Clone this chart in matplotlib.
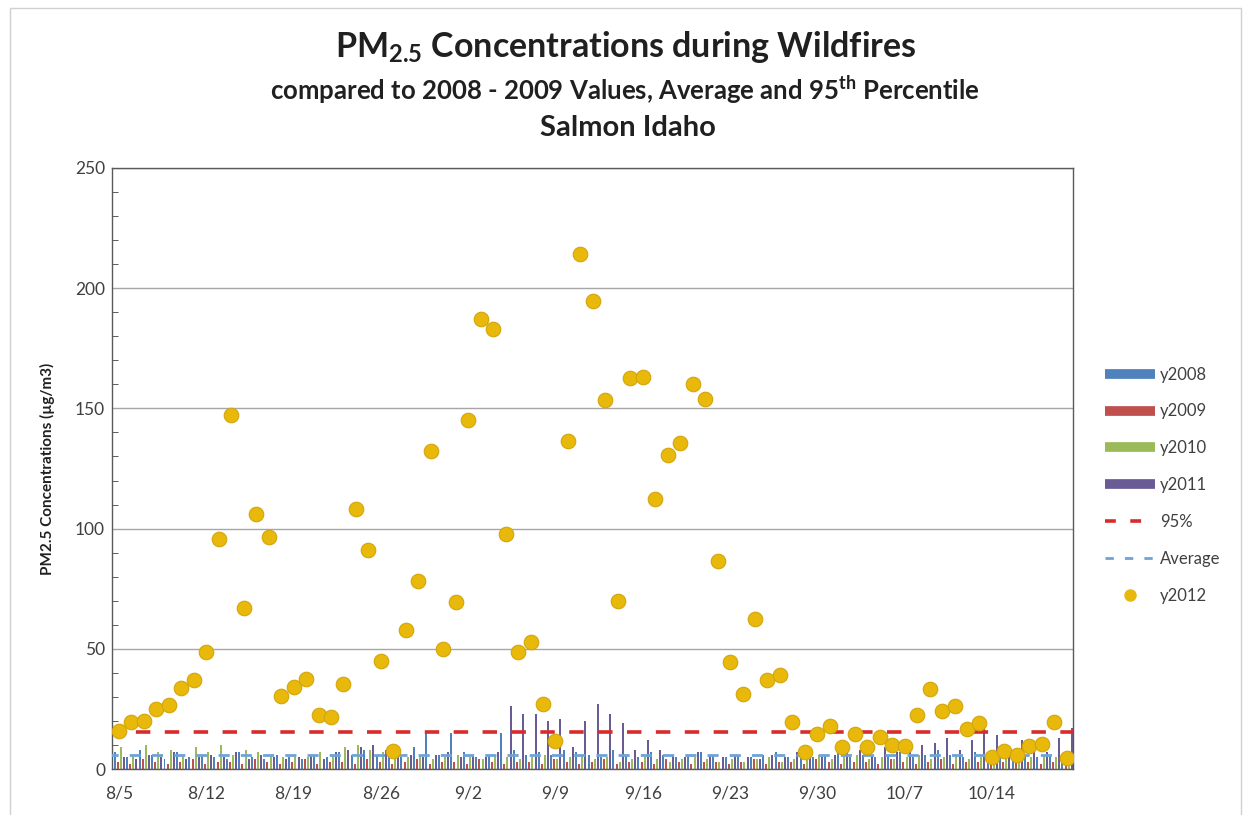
import numpy as np
import matplotlib
matplotlib.use("Agg")
import matplotlib.pyplot as plt
from matplotlib.lines import Line2D
from matplotlib.patches import Rectangle

plt.rcParams['font.family'] = ['Lato', 'DejaVu Sans']
plt.rcParams['mathtext.default'] = 'regular'

# Day labels on the x axis (one tick per week)
tick_labels = ['8/5', '8/12', '8/19', '8/26', '9/2', '9/9', '9/16',
               '9/23', '9/30', '10/7', '10/14']

# 2012 daily values, 8/5 .. 10/20
y2012 = [15.7, 19.5, 19.9, 25.1, 26.5, 33.7, 37.2, 48.5, 95.8, 147.2,
         66.9, 106.1, 96.5, 30.2, 34.1, 37.6, 22.3, 21.6, 35.5, 108.2,
         90.9, 45.0, 7.4, 57.8, 78.0, 132.2, 50.0, 69.5, 145.0, 187.0,
         183.0, 97.7, 48.6, 52.8, 27.1, 11.6, 136.4, 214.3, 194.5, 153.5,
         70.0, 162.7, 163.0, 112.4, 130.5, 135.7, 160.0, 153.8, 86.7, 44.4,
         31.4, 62.5, 37.0, 39.0, 19.5, 6.9, 14.6, 18.0, 9.2, 14.6,
         9.2, 13.4, 10.0, 9.7, 22.5, 33.2, 24.0, 26.2, 16.6, 19.0,
         5.0, 7.6, 5.9, 9.7, 10.6, 19.5, 4.5]

# earlier years, same calendar days
y2008 = [7, 5, 8, 6, 4, 7, 5, 6, 5, 4, 7, 5, 4, 6, 5, 4, 6, 5, 7, 6,
         8, 6, 7, 5, 9, 15, 6, 15, 7, 5, 6, 15, 8, 6, 7, 6, 8, 7, 6, 5,
         8, 6, 5, 7, 6, 5, 6, 7, 6, 5, 6, 5, 6, 7, 5, 6, 5, 6, 7, 5,
         6, 5, 6, 7, 5, 6, 8, 6, 5, 7, 6, 5, 7, 6, 5, 6, 4]
y2009 = [3, 2, 4, 3, 2, 3, 4, 2, 3, 3, 2, 4, 3, 2, 3, 4, 2, 3, 3, 2,
         4, 3, 2, 3, 4, 2, 3, 3, 2, 4, 3, 2, 3, 3, 2, 4, 3, 2, 3, 4,
         2, 3, 3, 2, 4, 3, 2, 3, 3, 2, 3, 4, 2, 3, 3, 2, 4, 3, 2, 3,
         3, 2, 4, 3, 2, 3, 4, 2, 3, 3, 2, 3, 4, 3, 2, 3, 3]
y2010 = [9, 6, 10, 7, 8, 6, 9, 7, 10, 6, 8, 7, 6, 5, 6, 5, 7, 6, 9, 10,
         8, 7, 6, 5, 6, 4, 5, 6, 5, 4, 6, 5, 4, 5, 6, 4, 5, 6, 4, 5,
         3, 4, 5, 4, 3, 4, 5, 4, 3, 4, 3, 4, 5, 3, 4, 5, 6, 4, 5, 6,
         4, 5, 4, 5, 6, 4, 5, 6, 4, 5, 6, 5, 4, 5, 6, 5, 6]
y2011 = [5, 4, 6, 5, 7, 4, 5, 6, 5, 7, 4, 6, 5, 4, 5, 6, 4, 7, 8, 9,
         10, 8, 7, 6, 5, 6, 7, 5, 6, 5, 7, 26, 23, 23, 20, 21, 9, 20, 27, 23,
         19, 8, 12, 8, 6, 5, 7, 6, 5, 6, 5, 4, 6, 5, 7, 6, 5, 6, 7, 8,
         6, 9, 7, 8, 10, 11, 13, 8, 12, 17, 14, 8, 12, 10, 7, 13, 17]

pct95 = 15.5
average = 6.0

days = np.arange(len(y2012))
years = [('y2008', y2008, '#4f81bd', -0.35),
         ('y2009', y2009, '#c0504d', -0.1),
         ('y2010', y2010, '#9bbb59', 0.15),
         ('y2011', y2011, '#6b5b95', 0.4)]

fig = plt.figure(figsize=(12.43, 8.15), dpi=100)
ax = fig.add_axes([112 / 1243, 1 - 769 / 815, (1073 - 112) / 1243, (769 - 168) / 815])

for name, vals, col, off in years:
    ax.bar(days + off, vals, width=0.16, color=col, linewidth=0, zorder=2)

ax.plot([-1, 80], [pct95, pct95], color='#d92b2b', lw=2.6, dashes=(4, 4), zorder=3)
ax.plot([-1, 80], [average, average], color='#6fa3d8', lw=2.0, dashes=(4, 4), zorder=3)
ax.scatter(days, y2012, s=110, color='#e8b90b', edgecolor='#d4a50a', linewidth=0.8, zorder=4)

ax.set_xlim(-0.56, 76.5)
ax.set_ylim(0, 250)
ax.set_yticks([0, 50, 100, 150, 200, 250])
ax.set_yticks(np.arange(0, 251, 10), minor=True)
ax.set_xticks(np.arange(0, 71, 7))
ax.set_xticklabels(tick_labels)
ax.tick_params(axis='both', which='major', length=0, labelsize=12.5, colors='#404040')
ax.tick_params(axis='y', which='major', pad=5)
ax.tick_params(axis='x', which='major', pad=12)
ax.tick_params(axis='y', which='minor', direction='in', length=4, color='#404040')
ax.tick_params(axis='x', which='minor', length=0)
ax.grid(axis='y', color='#a6a6a6', lw=1, zorder=0)
for sp in ax.spines.values():
    sp.set_color('#595959')
    sp.set_linewidth(1)

ax.set_ylabel('PM2.5 Concentrations (µg/m3)', fontsize=11, fontweight='bold', color='#202020', labelpad=14)

fig.text(0.503, 1 - 47 / 815, r'PM$_{2.5}$ Concentrations during Wildfires', ha='center', va='center',
         fontsize=24.5, fontweight='bold', color='#202020')
fig.text(0.503, 1 - 90 / 815, r'compared to 2008 - 2009 Values, Average and 95$^{th}$ Percentile',
         ha='center', va='center', fontsize=18.5, fontweight='bold', color='#202020')
fig.text(0.505, 1 - 128 / 815, 'Salmon Idaho', ha='center', va='center',
         fontsize=21, fontweight='bold', color='#202020')

handles = [Line2D([], [], color=c, lw=7, solid_capstyle='butt') for _, _, c, _ in years]
handles += [Line2D([], [], color='#d92b2b', lw=2.6, dashes=(3, 4)),
            Line2D([], [], color='#6fa3d8', lw=2.0, dashes=(3, 4)),
            Line2D([], [], ls='none', marker='o', ms=8, color='#e8b90b')]
labels = ['y2008', 'y2009', 'y2010', 'y2011', '95%', 'Average', 'y2012']
fig.legend(handles, labels, loc='center left', bbox_to_anchor=(1090 / 1243, 1 - 485 / 815),
           frameon=False, fontsize=12, handlelength=3.0, labelspacing=1.25,
           handletextpad=0.3, labelcolor='#404040')

fig.add_artist(Rectangle((0.008, -0.05), 0.99, 1.04, transform=fig.transFigure,
                         fill=False, edgecolor='#d0d0d0', lw=1))

fig.savefig('out.png', dpi=100)
